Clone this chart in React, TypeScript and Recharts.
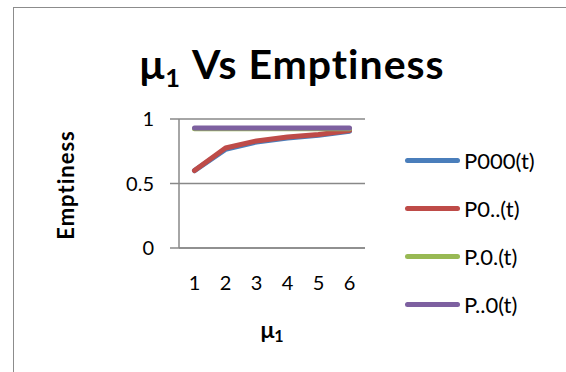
import { LineChart, Line, XAxis, YAxis, CartesianGrid } from 'recharts';

// mu1 values on the x axis
const categories = ['1', '2', '3', '4', '5', '6'];

// emptiness probabilities
const p000 = [0.6, 0.765, 0.822, 0.853, 0.874, 0.905];
const p0dd = [0.6, 0.775, 0.83, 0.86, 0.88, 0.91];
const pd0d = [0.925, 0.925, 0.925, 0.925, 0.925, 0.925];
const pdd0 = [0.93, 0.93, 0.93, 0.93, 0.93, 0.93];

const yTicks = [0, 0.5, 1];

const seriesList = [
  { key: 'p000', name: 'P000(t)', color: '#4a7ebb', values: p000 },
  { key: 'p0dd', name: 'P0..(t)', color: '#be4b48', values: p0dd },
  { key: 'pd0d', name: 'P.0.(t)', color: '#98b954', values: pd0d },
  { key: 'pdd0', name: 'P..0(t)', color: '#7d60a0', values: pdd0 },
];

const chartData = categories.map((c, i) => {
  const row: { [k: string]: string | number } = { mu: c };
  seriesList.forEach(s => { row[s.key] = s.values[i]; });
  return row;
});

const FONT = 'Lato, "Open Sans", sans-serif';
const GRAY = '#888888';

const LegendBox = () => (
  <div style={{ position: 'absolute', left: 405, top: 136, fontFamily: FONT, fontSize: 22, color: '#000' }}>
    {seriesList.map(s => (
      <div key={s.key} style={{ display: 'flex', alignItems: 'center', height: 48 }}>
        <div style={{ width: 55, height: 5, borderRadius: 3, background: s.color, marginRight: 4 }} />
        <span>{s.name}</span>
      </div>
    ))}
  </div>
);

export default function App() {
  return (
    <div style={{
      position: 'absolute', left: 0, top: 0, width: 566, height: 372, background: '#fff',
      overflow: 'hidden', fontVariantLigatures: 'none',
    }}>
      {/* chart frame, right and bottom edges fall outside the picture */}
      <div style={{ position: 'absolute', left: 13, top: 7, width: 600, height: 400, border: '1.5px solid #8c8c8c' }} />
      <div style={{
        position: 'absolute', left: 0, width: 584, top: 42, textAlign: 'center', letterSpacing: 1,
        fontFamily: FONT, fontWeight: 'bold', fontSize: 41, lineHeight: '44px', color: '#000',
      }}>
        μ<span style={{ fontSize: '0.62em', verticalAlign: '-0.3em' }}>1</span> Vs Emptiness
      </div>
      <div style={{
        position: 'absolute', left: 65, top: 184.5, transform: 'translate(-50%, -50%) rotate(-90deg)',
        fontFamily: FONT, fontWeight: 'bold', fontSize: 22, letterSpacing: 1, whiteSpace: 'nowrap', color: '#000',
      }}>
        Emptiness
      </div>
      <div style={{
        position: 'absolute', left: 272, top: 330, transform: 'translate(-50%, -50%)',
        fontFamily: FONT, fontWeight: 'bold', fontSize: 23, whiteSpace: 'nowrap', color: '#000',
      }}>
        μ<span style={{ fontSize: '0.7em', verticalAlign: '-0.3em' }}>1</span>
      </div>
      <LegendBox />
      <div style={{ position: 'absolute', left: 0, top: 0 }}>
        <LineChart
          width={566}
          height={372}
          data={chartData}
          margin={{ top: 119, right: 201, bottom: 0, left: 0 }}
        >
          <CartesianGrid vertical={false} stroke={GRAY} strokeWidth={1.5} />
          <XAxis
            dataKey="mu"
            height={124}
            padding={{ left: 15.5, right: 15.5 }}
            axisLine={{ stroke: GRAY, strokeWidth: 1.5 }}
            tickLine={false}
            tickSize={0}
            tickMargin={28}
            tick={{ fill: '#000', fontSize: 20, fontFamily: FONT }}
            interval={0}
          />
          <YAxis
            width={179}
            domain={[0, 1]}
            ticks={yTicks}
            axisLine={{ stroke: GRAY, strokeWidth: 1.5 }}
            tickLine={{ stroke: GRAY, strokeWidth: 1.5 }}
            tickSize={9}
            tickMargin={16}
            tick={{ fill: '#000', fontSize: 20, fontFamily: FONT }}
          />
          {seriesList.map(s => (
            <Line
              key={s.key}
              dataKey={s.key}
              name={s.name}
              type="linear"
              stroke={s.color}
              strokeWidth={5}
              strokeLinecap="round"
              strokeLinejoin="round"
              dot={false}
              activeDot={false}
              isAnimationActive={false}
            />
          ))}
        </LineChart>
      </div>
    </div>
  );
}
